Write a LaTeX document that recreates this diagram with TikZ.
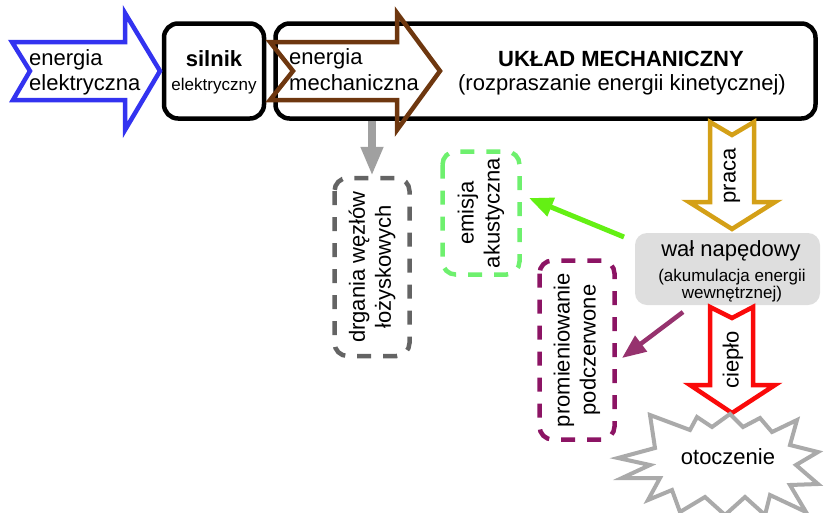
\documentclass[tikz,border=0pt]{standalone}
\usepackage{fontspec}
\setmainfont{Liberation Sans}
\usetikzlibrary{arrows.meta,calc}
\definecolor{cblue}{RGB}{51,51,240}
\definecolor{cbrown}{RGB}{110,55,15}
\definecolor{cgold}{RGB}{212,160,23}
\definecolor{cred}{RGB}{250,10,10}
\definecolor{cgrayarrow}{RGB}{160,160,160}
\definecolor{cdarkgray}{RGB}{100,100,100}
\definecolor{clightgreen}{RGB}{110,240,110}
\definecolor{cgreen}{RGB}{100,240,20}
\definecolor{cpurple}{RGB}{140,20,100}
\definecolor{cpurplearrow}{RGB}{150,50,110}
\definecolor{cstar}{RGB}{170,170,170}
\definecolor{cwal}{RGB}{222,222,222}
\tikzset{
  big/.style={font=\fontsize{22}{25}\selectfont},
  small/.style={font=\fontsize{17}{19}\selectfont},
  blackbox/.style={draw=black, line width=4.5pt, rounded corners=14pt, inner sep=0pt},
  dashbox/.style={line width=4.5pt, rounded corners=13pt, dash pattern=on 14pt off 12pt,
     rotate=90, align=center, inner sep=0pt, font=\fontsize{22}{26}\selectfont},
  fatarrow/.style={line width=4.5pt, line join=miter, miter limit=10},
  txt/.style={inner sep=0pt, big},
}
\begin{document}
\begin{tikzpicture}[x=1pt,y=-1pt]
\useasboundingbox (0,0) rectangle (825,512);

% boxes
\node[blackbox, minimum width=100pt, minimum height=95pt] (sil) at (214,71) {};
\node[blackbox, minimum width=540pt, minimum height=95pt] (ukl) at (545.5,71) {};
\node[txt, anchor=base, font=\fontsize{22}{25}\selectfont\bfseries] (silt1) at (214,66) {silnik};
\node[txt, anchor=base, small] (silt2) at (214,90) {elektryczny};
\node[txt, anchor=base, font=\fontsize{22}{25}\selectfont\bfseries] (uklt1) at (621,66) {UKŁAD MECHANICZNY};
\node[txt, anchor=base] (uklt2) at (622,90) {(rozpraszanie energii kinetycznej)};

% blue arrow
\draw[fatarrow, cblue] (12,42) -- (125,42) -- (125,13) -- (160,71) -- (125,130) -- (125,100) -- (13,100) -- (30,71) -- cycle;
\node[txt, anchor=base west] (ee1) at (29,65) {energia};
\node[txt, anchor=base west] (ee2) at (29,90) {elektryczna};

% brown arrow
\draw[fatarrow, cbrown] (270,42) -- (397,42) -- (397,13) -- (440,71) -- (397,130) -- (397,100) -- (270,100) -- (293,71) -- cycle;
\node[txt, anchor=base west] (em1) at (289,64) {energia};
\node[txt, anchor=base west] (em2) at (289,90) {mechaniczna};

% dashed boxes (rotated: east anchor is on top)
\node[dashbox, draw=cdarkgray, minimum width=178pt, minimum height=75pt] (drg) at (372,267) {drgania węzłów\\łożyskowych};
\node[dashbox, draw=clightgreen, minimum width=123pt, minimum height=77pt] (emi) at (481,213) {emisja\\akustyczna};
\node[dashbox, draw=cpurple, minimum width=179pt, minimum height=75pt] (pro) at (577,350) {promieniowanie\\podczerwone};

% gray arrow
\draw[line width=8pt, cgrayarrow, -{Triangle[width=21pt,length=29pt]}] (ukl.south -| drg.east) -- (drg.east);

% wal box
\node[fill=cwal, rounded corners=12pt, minimum width=185pt, minimum height=72pt, inner sep=0pt] (wal) at (727.5,269) {};
\node[txt, anchor=base] (walt1) at (731,256) {wał napędowy};
\node[txt, anchor=base, small] (walt2) at (732,281) {(akumulacja energii};
\node[txt, anchor=base, small] (walt3) at (732,298) {wewnętrznej)};

% gold arrow (praca)
\draw[fatarrow, cgold] (710,122) -- (732,135) -- (754,122) -- (754,202) -- (775,202) -- (732,229) -- (689,202) -- (710,202) -- cycle;
\node[txt, rotate=90] (praca) at (732,176) {praca};

% red arrow (cieplo)
\draw[fatarrow, cred] (710,307) -- (732,318) -- (753,307) -- (753,385) -- (775,385) -- (732,413) -- (690,385) -- (710,385) -- cycle;
\node[txt, rotate=90] (cieplo) at (733,360) {ciepło};

% green arrow
\coordinate (g0) at (624,237);
\coordinate (g1) at (529,198);
\draw[line width=5pt, cgreen, -{Triangle[width=19pt,length=24pt]}] (g0) -- (g1);

% purple arrow
\coordinate (p0) at (683,312);
\coordinate (p1) at (622,358);
\draw[line width=4.5pt, cpurplearrow, -{Triangle[width=19pt,length=24pt]}] (p0) -- (p1);

% star
\draw[line width=4pt, cstar, line join=miter, fill=white]
 (618,458) -- (655,448) -- (650,415) -- (690,430) -- (697,417) -- (712,427) -- (730,414) -- (743,427)
 -- (760,418) -- (772,432) -- (797,420) -- (790,445) -- (818,452) -- (796,465) -- (818,484) -- (790,485)
 -- (806,512) -- (770,495) -- (765,515) -- (745,497) -- (725,515) -- (705,497) -- (680,512) -- (672,490)
 -- (648,500) -- (660,478) -- (622,478) -- (650,465) -- cycle;
\node[txt] (oto) at (728,457) {otoczenie};
\end{tikzpicture}
\end{document}
